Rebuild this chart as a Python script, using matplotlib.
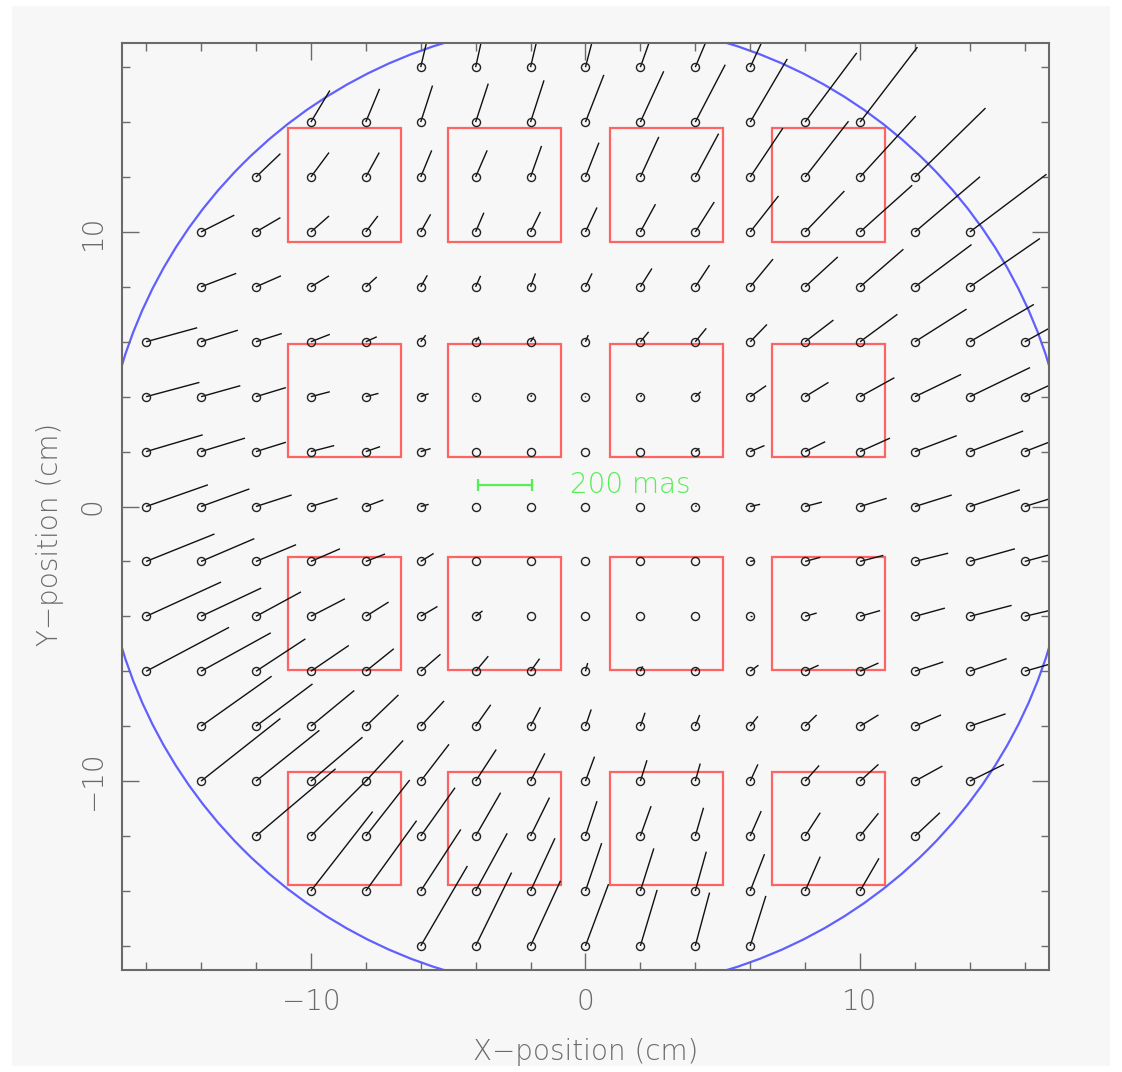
import numpy as np
import matplotlib
matplotlib.use('Agg')
import matplotlib.pyplot as plt
from matplotlib.collections import LineCollection
from matplotlib.patches import Rectangle, Circle
from matplotlib.ticker import MultipleLocator

# grid rows (cm), first x of each row, grid step 2 cm
row_y = [16, 14, 12, 10, 8, 6, 4, 2, 0, -2, -4, -6, -8, -10, -12, -14, -16]
row_x0 = [-6, -10, -12, -14, -14, -16, -16, -16, -16, -16, -16, -16, -14, -14, -12, -10, -6]

# distortion vectors in mas (left to right along each row)
dx_mas = [
    [40, 40, 45, 55, 80, 105, 125],
    [69, 50, 43, 46, 49, 67, 85, 109, 135, 188, 209],
    [89, 66, 49, 40, 42, 40, 49, 67, 85, 119, 158, 203, 257],
    [121, 89, 66, 44, 36, 30, 36, 42, 55, 69, 103, 143, 190, 237, 279],
    [128, 91, 66, 40, 24, 18, 18, 24, 42, 52, 83, 119, 158, 206, 255],
    [186, 134, 94, 69, 40, 18, 12, 12, 10, 30, 40, 61, 103, 136, 188, 233, 290],
    [194, 143, 109, 69, 46, 29, 3, 5, 0, 5, 20, 58, 85, 125, 168, 219, 270],
    [206, 160, 109, 85, 52, 36, 0, 0, 0, 0, 15, 52, 73, 109, 152, 194, 245],
    [225, 176, 130, 97, 64, 29, 0, 0, 0, 0, 5, 36, 61, 97, 134, 182, 225],
    [249, 194, 146, 106, 70, 47, 0, 0, 0, 0, 0, 15, 55, 85, 121, 164, 205],
    [273, 219, 164, 124, 83, 61, 25, 0, 0, 0, 0, 5, 42, 73, 109, 152, 190],
    [302, 254, 180, 138, 102, 72, 46, 33, 8, 8, 5, 30, 49, 67, 103, 134, 175],
    [257, 206, 158, 119, 85, 55, 36, 21, 17, 16, 28, 42, 67, 95, 130],
    [289, 231, 188, 136, 103, 75, 52, 33, 24, 18, 28, 51, 67, 100, 124],
    [290, 215, 160, 125, 91, 69, 42, 39, 30, 40, 55, 67, 91],
    [225, 185, 146, 115, 89, 59, 49, 40, 52, 55, 69],
    [170, 131, 109, 84, 61, 52, 57],
]
dy_mas = [
    [170, 180, 190, 210, 225, 250, 270],
    [115, 121, 133, 140, 152, 172, 185, 209, 230, 252, 273],
    [85, 89, 89, 97, 97, 113, 125, 146, 158, 178, 203, 222, 251],
    [61, 52, 58, 58, 64, 70, 73, 89, 101, 109, 131, 149, 170, 201, 210],
    [49, 40, 40, 36, 42, 40, 49, 49, 67, 79, 101, 109, 137, 154, 176],
    [51, 42, 30, 27, 18, 24, 18, 18, 24, 36, 49, 63, 79, 100, 119, 136, 160],
    [52, 40, 33, 18, 12, 11, 3, 5, 2, 5, 18, 40, 52, 69, 81, 106, 125],
    [61, 49, 34, 22, 18, 11, 0, 0, 0, 0, 12, 22, 36, 49, 58, 75, 95],
    [79, 64, 42, 30, 24, 8, 0, 0, 0, 0, 3, 8, 16, 30, 42, 61, 70],
    [100, 83, 61, 46, 27, 29, 0, 0, 0, 0, 0, 3, 15, 22, 30, 46, 55],
    [125, 103, 89, 64, 52, 36, 20, 0, 0, 0, 0, 0, 12, 21, 30, 40, 45],
    [160, 140, 118, 94, 82, 62, 55, 46, 30, 18, 10, 22, 22, 30, 34, 46, 50],
    [182, 154, 130, 114, 92, 78, 69, 61, 49, 41, 36, 41, 41, 41, 45],
    [228, 185, 160, 148, 134, 115, 101, 89, 76, 64, 61, 57, 61, 55, 61],
    [245, 215, 204, 176, 158, 140, 127, 109, 103, 91, 85, 83, 85],
    [289, 256, 224, 210, 192, 174, 155, 143, 134, 125, 119],
    [291, 267, 237, 225, 204, 194, 182],
]
mas_per_cm = 100.0   # plot scale: 200 mas bar = 2 cm

# detector outlines (lower-left corners, cm) and field circle
box_x0 = [-10.85, -5.0, 0.9, 6.8]
box_y0 = [9.65, 1.8, -5.95, -13.8]
box_size = 4.12
field_radius = 17.65

# scale bar
bar_mas = 200
bar_x0, bar_y = -3.93, 0.77
bar_label = '200 mas'

lim = 16.88
fg = '#6a6a6a'
fs = 20

fig = plt.figure(figsize=(11.22, 10.72), dpi=100)
fig.patch.set_facecolor('white')
fig.patches.append(Rectangle((12 / 1122, 6 / 1072), 1098 / 1122, 1060 / 1072,
                             transform=fig.transFigure, facecolor='#f7f7f7',
                             edgecolor='none', zorder=-10))

ax = fig.add_axes([0.1087, 0.0951, 0.8262, 0.8648])
ax.set_facecolor('#f7f7f7')

xs, ys, segs = [], [], []
for y, x0, dxr, dyr in zip(row_y, row_x0, dx_mas, dy_mas):
    for i, (dx, dy) in enumerate(zip(dxr, dyr)):
        x = x0 + 2 * i
        xs.append(x)
        ys.append(y)
        segs.append([(x, y), (x + dx / mas_per_cm, y + dy / mas_per_cm)])

ax.add_collection(LineCollection(segs, colors='#111111', linewidths=1.0))
ax.plot(xs, ys, 'o', mfc='none', mec='#222222', ms=5.8, mew=1.0)

for bx in box_x0:
    for by in box_y0:
        ax.add_patch(Rectangle((bx, by), box_size, box_size, fill=False,
                               edgecolor='#ff6464', lw=1.6))

ax.add_patch(Circle((0, 0), field_radius, fill=False, edgecolor='#6060ff', lw=1.6))

bar_x1 = bar_x0 + bar_mas / mas_per_cm
ax.plot([bar_x0, bar_x1], [bar_y, bar_y], color='#55ee55', lw=1.6,
        marker='|', ms=9, mew=1.6)
ax.text(bar_x1 + 1.35, bar_y, bar_label, color='#55ee55', fontsize=fs,
        va='center', ha='left', fontweight='light')

ax.set_xlim(-lim, lim)
ax.set_ylim(-lim, lim)
ax.xaxis.set_major_locator(MultipleLocator(10))
ax.xaxis.set_minor_locator(MultipleLocator(2))
ax.yaxis.set_major_locator(MultipleLocator(10))
ax.yaxis.set_minor_locator(MultipleLocator(2))
ax.tick_params(which='both', direction='in', top=True, right=True,
               color=fg, width=1.0)
ax.tick_params(which='major', length=12)
ax.tick_params(which='minor', length=6)
ax.tick_params(axis='x', labelsize=fs, labelcolor=fg, pad=13)
ax.tick_params(axis='y', labelsize=fs, labelcolor=fg, pad=11)
for lab in ax.get_xticklabels() + ax.get_yticklabels():
    lab.set_fontweight('light')
for lab in ax.get_yticklabels():
    lab.set_rotation(90)
    lab.set_va('center')
for sp in ax.spines.values():
    sp.set_color(fg)
    sp.set_linewidth(1.5)

ax.set_xlabel('X\u2212position (cm)', fontsize=fs, color=fg, fontweight='light')
ax.set_ylabel('Y\u2212position (cm)', fontsize=fs, color=fg, fontweight='light')
ax.xaxis.set_label_coords(0.5, -0.0885)
ax.xaxis.label.set_va('center')
ax.yaxis.set_label_coords(-0.0777, 0.47)
ax.yaxis.label.set_va('center')

fig.savefig('out.png', dpi=100, facecolor=fig.get_facecolor())
